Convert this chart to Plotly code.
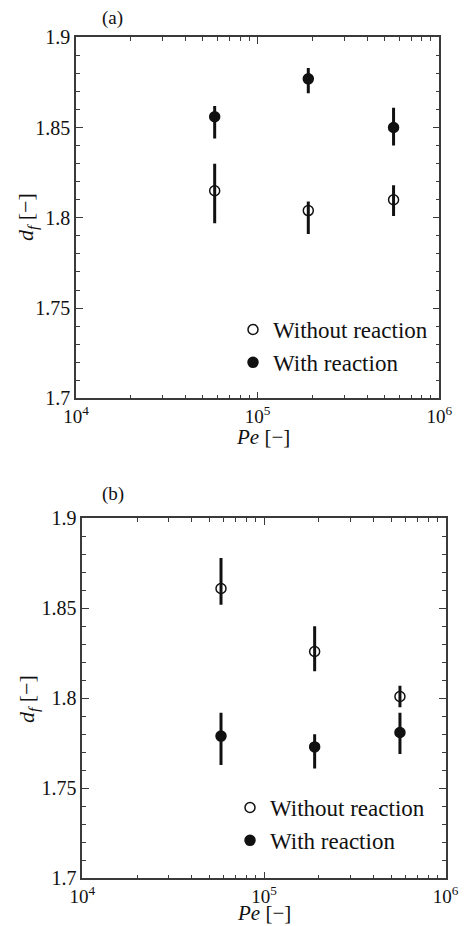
import plotly.graph_objects as go

# Peclet numbers of the three flow conditions
pe = [5.8e4, 1.9e5, 5.6e5]

# (a) fractal dimension d_f
a_without = [1.815, 1.804, 1.810]
a_without_up = [0.015, 0.005, 0.008]
a_without_dn = [0.018, 0.013, 0.009]
a_with = [1.856, 1.877, 1.850]
a_with_up = [0.006, 0.006, 0.011]
a_with_dn = [0.012, 0.008, 0.010]

# (b) fractal dimension d_f
b_without = [1.861, 1.826, 1.801]
b_without_up = [0.017, 0.014, 0.006]
b_without_dn = [0.009, 0.011, 0.006]
b_with = [1.779, 1.773, 1.781]
b_with_up = [0.013, 0.007, 0.011]
b_with_dn = [0.016, 0.012, 0.012]

y_ticks = [1.7, 1.75, 1.8, 1.85, 1.9]
y_ticktext = ["1.7", "1.75", "1.8", "1.85", "1.9"]
x_ticks = [1e4, 1e5, 1e6]
x_ticktext = ["10<sup>4</sup>", "10<sup>5</sup>", "10<sup>6</sup>"]

W, H = 467, 926
SERIF = "Liberation Serif"
INK = "#111111"
AXC = "#3a3a3a"


def px_x(a, b):
    return [a / W, b / W]


def px_y(top, bottom):
    return [1 - bottom / H, 1 - top / H]


fig = go.Figure()


def add_series(y, up, dn, name, filled, xa, ya, legend):
    fig.add_trace(go.Scatter(
        x=pe, y=y, mode="markers", name=name,
        xaxis=xa, yaxis=ya, legend=legend,
        marker=dict(symbol="circle" if filled else "circle-open",
                    size=10, color=INK,
                    line=dict(color=INK, width=1.5)),
        error_y=dict(type="data", symmetric=False, array=up, arrayminus=dn,
                     color=INK, thickness=3, width=0),
    ))


add_series(a_without, a_without_up, a_without_dn, "Without reaction", False, "x", "y", "legend")
add_series(a_with, a_with_up, a_with_dn, "With reaction", True, "x", "y", "legend")
add_series(b_without, b_without_up, b_without_dn, "Without reaction", False, "x2", "y2", "legend2")
add_series(b_with, b_with_up, b_with_dn, "With reaction", True, "x2", "y2", "legend2")

xcommon = dict(
    type="log", range=[4, 6], tickvals=x_ticks, ticktext=x_ticktext,
    ticks="inside", ticklen=7, tickwidth=1.2, tickcolor=AXC,
    minor=dict(ticks="inside", ticklen=4, tickwidth=1.2, tickcolor=AXC, dtick="D1", showgrid=False),
    showline=True, linecolor=AXC, linewidth=1.5, mirror="ticks",
    showgrid=False, zeroline=False, automargin=False,
    tickfont=dict(family=SERIF, size=19, color=INK),
)
ycommon = dict(
    range=[1.7, 1.9], tickvals=y_ticks, ticktext=y_ticktext,
    ticks="inside", ticklen=7, tickwidth=1.2, tickcolor=AXC,
    minor=dict(ticks="inside", ticklen=4, tickwidth=1.2, tickcolor=AXC, dtick=0.01, showgrid=False),
    showline=True, linecolor=AXC, linewidth=1.5, mirror="ticks",
    showgrid=False, zeroline=False, automargin=False,
    tickfont=dict(family=SERIF, size=20, color=INK),
)

legend_common = dict(
    font=dict(family=SERIF, size=23, color=INK),
    bgcolor="rgba(0,0,0,0)", borderwidth=0,
    xanchor="left", yanchor="top", tracegroupgap=0,
)

X_TITLE = "<i>Pe</i> [\u2212]"
Y_TITLE = "<i>d</i><sub><i>f</i></sub> [\u2212]"


def note(text, x, y, size, angle=0):
    return dict(text=text, x=x / W, y=1 - y / H, xref="paper", yref="paper",
                xanchor="center", yanchor="middle", showarrow=False,
                textangle=angle, font=dict(family=SERIF, size=size, color=INK))


fig.update_layout(
    width=W, height=H,
    font=dict(family=SERIF),
    margin=dict(l=0, r=0, t=0, b=0, autoexpand=False),
    paper_bgcolor="white", plot_bgcolor="white",
    showlegend=True,
    xaxis=dict(domain=px_x(76, 439.3), anchor="y", **xcommon),
    yaxis=dict(domain=px_y(37.3, 398.3), anchor="x", **ycommon),
    xaxis2=dict(domain=px_x(82.3, 445.7), anchor="y2", **xcommon),
    yaxis2=dict(domain=px_y(518.3, 878.3), anchor="x2", **ycommon),
    legend=dict(x=233 / W, y=1 - 308 / H, **legend_common),
    legend2=dict(x=230 / W, y=1 - 786 / H, **legend_common),
    annotations=[
        note("(a)", 112, 18, 19),
        note("(b)", 112.5, 494, 19),
        note(X_TITLE, 263, 437, 21),
        note(X_TITLE, 264, 913, 21),
        note(Y_TITLE, 27, 217, 22, -90),
        note(Y_TITLE, 28, 699, 22, -90),
    ],
)

fig.write_html("out.html")
